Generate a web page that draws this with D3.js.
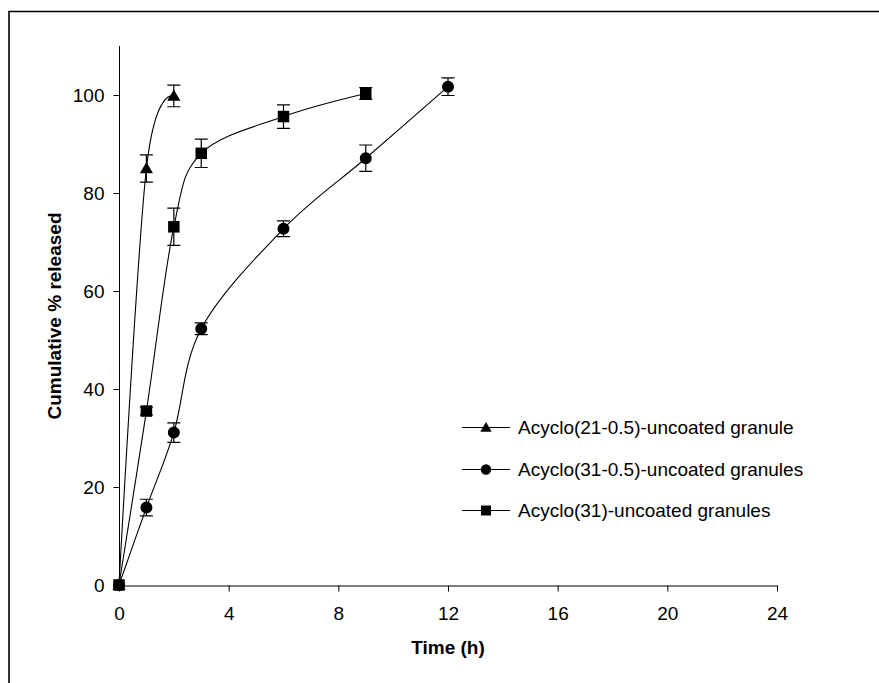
<!DOCTYPE html>
<html><head><meta charset="utf-8">
<script src="https://cdn.jsdelivr.net/npm/d3@7"></script>
<style>body{margin:0;background:#fff;} svg{display:block;font-family:"Liberation Sans",Arial,sans-serif;}</style>
</head><body>
<script>
// Data
const xTicks = [0, 4, 8, 12, 16, 20, 24];
const yTicks = [0, 20, 40, 60, 80, 100];
const seriesNames = ["Acyclo(21-0.5)-uncoated granule", "Acyclo(31-0.5)-uncoated granules", "Acyclo(31)-uncoated granules"];
const triTime = [0, 1, 2];
const triValue = [0, 85.0, 99.8];
const triErr = [0, 2.8, 2.2];
const cirTime = [0, 1, 2, 3, 6, 9, 12];
const cirValue = [0, 15.8, 31.1, 52.3, 72.7, 87.1, 101.7];
const cirErr = [0, 1.7, 2.0, 1.2, 1.6, 2.7, 1.8];
const sqTime = [0, 1, 2, 3, 6, 9];
const sqValue = [0, 35.5, 73.1, 88.1, 95.6, 100.3];
const sqErr = [0, 0.8, 3.8, 2.9, 2.4, 1.2];

const W = 879, H = 683;
const svg = d3.select("body").append("svg").attr("width", W).attr("height", H);

// outer frame (top & left visible)
svg.append("path").attr("d", `M9,${H} L9,11.5 L${W},11.5`).attr("fill", "none").attr("stroke", "#000").attr("stroke-width", 1.6);

const x = d3.scaleLinear().domain([0, 24]).range([119, 777]);
const y = d3.scaleLinear().domain([0, 110]).range([585, 46]);

// axes
const xAxis = svg.append("g").attr("transform", "translate(0,585.5)")
  .call(d3.axisBottom(x).tickValues(xTicks).tickSize(6).tickSizeOuter(0).tickPadding(15));
const yAxis = svg.append("g").attr("transform", "translate(119.5,0)")
  .call(d3.axisLeft(y).tickValues(yTicks).tickSize(6).tickSizeOuter(0).tickPadding(9));
[xAxis, yAxis].forEach(a => {
  a.select(".domain").attr("stroke", "#000");
  a.selectAll(".tick line").attr("stroke", "#000");
  a.selectAll("text").attr("font-size", 19).attr("fill", "#000").attr("font-family", "Liberation Sans, Arial, sans-serif");
});
// make y domain extend to top
yAxis.select(".domain").attr("d", `M0,${y(110)}V${y(0)}`);

svg.append("text").attr("x", 448).attr("y", 654).attr("text-anchor", "middle")
  .attr("font-size", 19).attr("font-weight", "bold").text("Time (h)");
svg.append("text").attr("transform", "translate(61,316) rotate(-90)").attr("text-anchor", "middle")
  .attr("font-size", 19).attr("font-weight", "bold").text("Cumulative % released");

const series = [
  {name: seriesNames[0], t: triTime, v: triValue, e: triErr, sym: d3.symbolTriangle, size: 75},
  {name: seriesNames[1], t: cirTime, v: cirValue, e: cirErr, sym: d3.symbolCircle, size: 113},
  {name: seriesNames[2], t: sqTime, v: sqValue, e: sqErr, sym: d3.symbolSquare, size: 132},
];

const line = d3.line().x(d => x(d[0])).y(d => y(d[1])).curve(d3.curveCardinal.tension(0));
const cap = 6.5;

series.forEach(s => {
  const pts = s.t.map((t, i) => [t, s.v[i], s.e[i]]);
  const g = svg.append("g");
  // error bars
  pts.filter(p => p[2] > 0).forEach(p => {
    const cx = x(p[0]), y1 = y(p[1] + p[2]), y2 = y(p[1] - p[2]);
    g.append("path").attr("d", `M${cx},${y1}V${y2}M${cx - cap},${y1}H${cx + cap}M${cx - cap},${y2}H${cx + cap}`)
      .attr("stroke", "#000").attr("stroke-width", 1.2).attr("fill", "none");
  });
  g.append("path").datum(pts).attr("d", line).attr("fill", "none").attr("stroke", "#000").attr("stroke-width", 1.1);
  g.selectAll(".m").data(pts).enter().append("path")
    .attr("transform", d => `translate(${x(d[0])},${y(d[1]) + (s.sym === d3.symbolTriangle ? 1 : 0)})`)
    .attr("d", d3.symbol().type(s.sym).size(s.size)).attr("fill", "#000");
});

// legend
const legY = [427, 469, 510];
series.forEach((s, i) => {
  const g = svg.append("g").attr("transform", `translate(0,${legY[i]})`);
  g.append("line").attr("x1", 462).attr("x2", 510).attr("y1", 0.5).attr("y2", 0.5).attr("stroke", "#000").attr("stroke-width", 1.1);
  g.append("path").attr("transform", `translate(486,${s.sym === d3.symbolTriangle ? 1.5 : 0.5})`)
    .attr("d", d3.symbol().type(s.sym).size(s.size * 0.75)).attr("fill", "#000");
  g.append("text").attr("x", 518).attr("y", 7).attr("font-size", 19).attr("fill", "#000").text(s.name);
});
</script>
</body></html>
